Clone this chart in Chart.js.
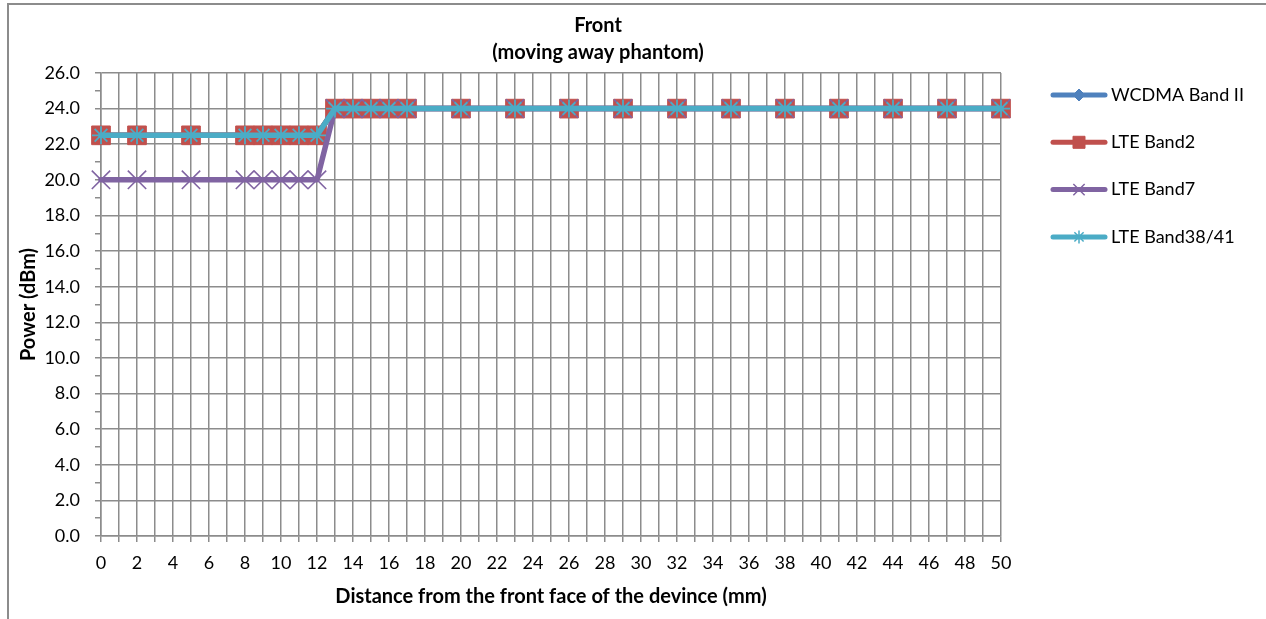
<!DOCTYPE html>
<html lang="en">
<head>
  <meta charset="UTF-8" />
  <title>Front (moving away phantom)</title>
  <script src="https://cdn.jsdelivr.net/npm/chart.js"></script>
  <style>
    html, body {
      margin: 0;
      padding: 0;
      background: #fff;
    }
    #wrap {
      width: 1266px;
      height: 619px;
    }
  </style>
</head>
<body>
  <div id="wrap"><canvas id="powerChart" width="1266" height="619"></canvas></div>

  <script>
    // distance from the front face (mm)
    const distances = [0, 2, 5, 8, 9, 10, 11, 12, 13, 14, 15, 16, 17, 20, 23, 26, 29, 32, 35, 38, 41, 44, 47, 50];

    // measured power (dBm)
    const wcdmaBand2 = [22.5, 22.5, 22.5, 22.5, 22.5, 22.5, 22.5, 22.5, 24, 24, 24, 24, 24, 24, 24, 24, 24, 24, 24, 24, 24, 24, 24, 24];
    const lteBand2 = [22.5, 22.5, 22.5, 22.5, 22.5, 22.5, 22.5, 22.5, 24, 24, 24, 24, 24, 24, 24, 24, 24, 24, 24, 24, 24, 24, 24, 24];
    const lteBand7 = [20, 20, 20, 20, 20, 20, 20, 20, 24, 24, 24, 24, 24, 24, 24, 24, 24, 24, 24, 24, 24, 24, 24, 24];
    const lteBand3841 = [22.5, 22.5, 22.5, 22.5, 22.5, 22.5, 22.5, 22.5, 24, 24, 24, 24, 24, 24, 24, 24, 24, 24, 24, 24, 24, 24, 24, 24];

    const seriesNames = ['WCDMA Band II', 'LTE Band2', 'LTE Band7', 'LTE Band38/41'];
    const titleLines = ['Front', '(moving away phantom)'];

    // axis ticks: one grid line per unit, labels on every second one
    const xTicks = Array.from({ length: 51 }, (_, i) => i);
    const yTicks = Array.from({ length: 27 }, (_, i) => i);

    const gridGray = '#8c8c8c';
    const fontFamily = 'Lato, "Liberation Sans", sans-serif';

    function toPoints(values) {
      return distances.map((d, i) => ({ x: d, y: values[i] }));
    }

    Chart.defaults.font.family = fontFamily;
    Chart.defaults.color = '#000';

    // outer frame + two line title centred like the spreadsheet one
    const framePlugin = {
      id: 'frame',
      beforeDraw(chart) {
        const ctx = chart.ctx;
        ctx.save();
        ctx.fillStyle = '#fff';
        ctx.fillRect(0, 0, chart.width, chart.height);
        ctx.strokeStyle = gridGray;
        ctx.lineWidth = 2;
        ctx.strokeRect(8, 4, chart.width + 20, chart.height + 20);

        ctx.fillStyle = '#000';
        ctx.font = 'bold 20px ' + fontFamily;
        ctx.textAlign = 'center';
        ctx.textBaseline = 'middle';
        titleLines.forEach((t, i) => ctx.fillText(t, 598, 26 + i * 27));
        ctx.restore();
      }
    };

    // legend with a line segment and the marker in the middle
    const lineLegend = {
      id: 'lineLegend',
      afterDraw(chart) {
        const ctx = chart.ctx;
        ctx.save();
        chart.data.datasets.forEach((ds, i) => {
          const y = 95 + i * 47.3;
          ctx.strokeStyle = ds.borderColor;
          ctx.lineWidth = 5;
          ctx.lineCap = 'round';
          ctx.beginPath();
          ctx.moveTo(1053, y);
          ctx.lineTo(1105, y);
          ctx.stroke();
          ctx.fillStyle = ds.pointBackgroundColor;
          ctx.strokeStyle = ds.pointBorderColor;
          ctx.lineWidth = ds.legendMarker.borderWidth;
          ctx.lineCap = 'butt';
          Chart.helpers.drawPoint(ctx, {
            pointStyle: ds.pointStyle,
            radius: ds.legendMarker.radius,
            rotation: 0,
            borderWidth: ds.legendMarker.borderWidth
          }, 1079, y);
          ctx.fillStyle = '#000';
          ctx.font = '18px ' + fontFamily;
          ctx.textBaseline = 'middle';
          ctx.textAlign = 'left';
          ctx.fillText(ds.label, 1111, y);
        });
        ctx.restore();
      }
    };

    const ctx = document.getElementById('powerChart').getContext('2d');
    new Chart(ctx, {
      type: 'line',
      data: {
        datasets: [
          {
            label: seriesNames[0],
            data: toPoints(wcdmaBand2),
            borderColor: '#4F81BD',
            pointBackgroundColor: '#4F81BD',
            pointBorderColor: '#4F81BD',
            pointStyle: 'rectRot',
            pointRadius: 7,
            pointBorderWidth: 1,
            legendMarker: { radius: 6, borderWidth: 1 },
            order: 3
          },
          {
            label: seriesNames[1],
            data: toPoints(lteBand2),
            borderColor: '#C0504D',
            pointBackgroundColor: '#C0504D',
            pointBorderColor: '#C0504D',
            pointStyle: 'rect',
            pointRadius: 13.2,
            pointBorderWidth: 1,
            legendMarker: { radius: 8.5, borderWidth: 1 },
            order: 2
          },
          {
            label: seriesNames[2],
            data: toPoints(lteBand7),
            borderColor: '#8064A2',
            pointBackgroundColor: '#8064A2',
            pointBorderColor: '#8064A2',
            pointStyle: 'crossRot',
            pointRadius: 13,
            pointBorderWidth: 1.6,
            legendMarker: { radius: 8, borderWidth: 1.5 },
            order: 1
          },
          {
            label: seriesNames[3],
            data: toPoints(lteBand3841),
            borderColor: '#4BACC6',
            pointBackgroundColor: '#4BACC6',
            pointBorderColor: '#4BACC6',
            pointStyle: 'star',
            pointRadius: 9,
            pointBorderWidth: 1.8,
            legendMarker: { radius: 6.5, borderWidth: 1.5 },
            order: 0
          }
        ]
      },
      options: {
        responsive: false,
        animation: false,
        events: [],
        elements: {
          line: { borderWidth: 5.5, tension: 0, borderCapStyle: 'round', borderJoinStyle: 'round' }
        },
        datasets: {
          line: { clip: false, fill: false }
        },
        layout: {
          padding: { left: 8, top: 73, right: 265, bottom: 0 }
        },
        scales: {
          x: {
            type: 'linear',
            min: 0,
            max: 50,
            afterFit(scale) { scale.height = 83; },
            afterBuildTicks(scale) { scale.ticks = xTicks.map(v => ({ value: v })); },
            ticks: {
              autoSkip: false,
              maxRotation: 0,
              padding: 10,
              font: { size: 18 },
              callback: v => (Math.round(v) % 2 === 0 ? String(Math.round(v)) : '')
            },
            grid: { color: gridGray, lineWidth: 1.5, tickLength: 6, tickColor: gridGray },
            border: { color: gridGray, width: 1.5 },
            title: {
              display: true,
              text: 'Distance from the front face of the devince (mm)',
              font: { size: 20, weight: 'bold' },
              padding: { top: 0, bottom: 10 }
            }
          },
          y: {
            min: 0,
            max: 26,
            afterFit(scale) { scale.width = 93; },
            afterBuildTicks(scale) { scale.ticks = yTicks.map(v => ({ value: v })); },
            ticks: {
              autoSkip: false,
              padding: 15,
              font: { size: 18 },
              callback: v => (Math.round(v) % 2 === 0 ? v.toFixed(1) : '')
            },
            grid: {
              color: c => (c.tick && Math.round(c.tick.value) % 2 === 0 ? gridGray : 'rgba(0,0,0,0)'),
              lineWidth: 1.5,
              tickLength: 6,
              tickColor: gridGray
            },
            border: { color: gridGray, width: 1.5 },
            title: {
              display: true,
              text: 'Power (dBm)',
              font: { size: 20, weight: 'bold' },
              padding: { top: 9, bottom: 0 }
            }
          }
        },
        plugins: {
          legend: { display: false },
          tooltip: { enabled: false },
          title: { display: false }
        }
      },
      plugins: [framePlugin, lineLegend]
    });
  </script>
</body>
</html>
